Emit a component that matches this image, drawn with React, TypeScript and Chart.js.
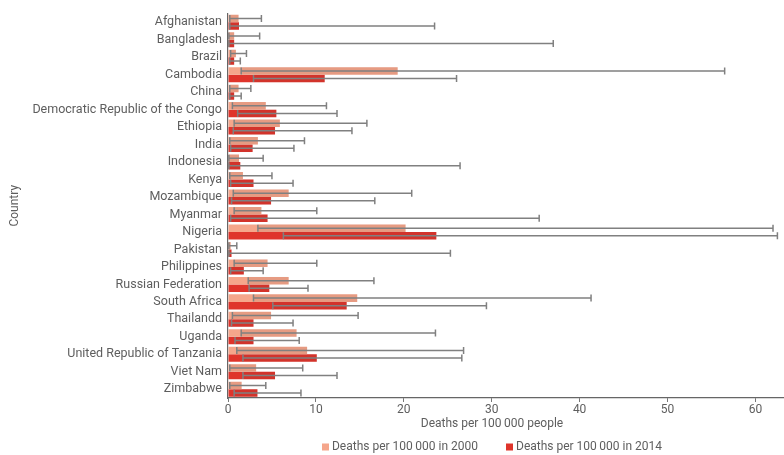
import React, { useEffect, useRef } from "react";
import { Chart, registerables } from "chart.js";

Chart.register(...registerables);

const CATEGORIES = [
  "Afghanistan", "Bangladesh", "Brazil", "Cambodia", "China",
  "Democratic Republic of the Congo", "Ethiopia", "India", "Indonesia", "Kenya",
  "Mozambique", "Myanmar", "Nigeria", "Pakistan", "Philippines",
  "Russian Federation", "South Africa", "Thailandd", "Uganda",
  "United Republic of Tanzania", "Viet Nam", "Zimbabwe",
];

const DEATHS_2000 = [1.2, 0.7, 0.9, 19.3, 1.2, 4.3, 5.9, 3.4, 1.25, 1.7, 6.9, 3.8, 20.2, 0.3, 4.5, 6.9, 14.7, 4.9, 7.8, 9.0, 3.2, 1.55];
const LOW_2000 = [0.2, 0.1, 0.3, 1.5, 0.2, 0.5, 0.7, 0.2, 0.1, 0.2, 0.6, 0.7, 3.4, 0.1, 0.7, 2.3, 2.9, 0.5, 1.5, 1.0, 0.2, 0.2];
const HIGH_2000 = [3.8, 3.6, 2.1, 56.5, 2.6, 11.2, 15.8, 8.7, 4.0, 5.0, 20.9, 10.1, 62.0, 1.0, 10.1, 16.6, 41.3, 14.8, 23.6, 26.8, 8.5, 4.3];

const DEATHS_2014 = [1.25, 0.7, 0.7, 11.0, 0.7, 5.5, 5.35, 2.8, 1.4, 2.9, 4.9, 4.5, 23.7, 0.4, 1.8, 4.7, 13.5, 2.9, 2.9, 10.1, 5.35, 3.35];
const LOW_2014 = [0.2, 0.1, 0.2, 2.9, 0.2, 1.1, 0.6, 0.3, 0.1, 0.3, 0.4, 0.3, 6.3, 0.1, 0.3, 2.4, 5.1, 0.4, 0.8, 1.7, 1.7, 0.7];
const HIGH_2014 = [23.5, 37.0, 1.4, 26.0, 1.5, 12.4, 14.1, 7.5, 26.4, 7.4, 16.7, 35.4, 62.5, 25.3, 4.0, 9.1, 29.4, 7.4, 8.1, 26.6, 12.4, 8.3];

const X_TICKS = [0, 10, 20, 30, 40, 50, 60];

const LABEL_2000 = "Deaths per 100\u2009000 in 2000";
const LABEL_2014 = "Deaths per 100\u2009000 in 2014";
const X_TITLE = "Deaths per 100\u2009000 people";
const Y_TITLE = "Country";

const COLOR_2000 = "#f5a68b";
const COLOR_2014 = "#df342b";
const FONT = "Roboto, 'DejaVu Sans', sans-serif";
const TEXT = "#5e5e5e";

const errorBarPlugin = {
  id: "errorBars",
  afterDatasetsDraw(chart: any) {
    const ctx = chart.ctx;
    const xs = chart.scales.x;
    const sets = [
      [LOW_2000, HIGH_2000],
      [LOW_2014, HIGH_2014],
    ];
    ctx.save();
    sets.forEach(([lo, hi], di) => {
      const meta = chart.getDatasetMeta(di);
      meta.data.forEach((el: any, i: number) => {
        const { x, y, height } = el.getProps(["x", "y", "height"], true);
        const xl = xs.getPixelForValue(lo[i]);
        const xh = xs.getPixelForValue(hi[i]);
        const end = Math.min(x, xh);
        if (end > xl) {
          ctx.fillStyle = "rgba(90,40,40,0.09)";
          ctx.fillRect(xl, y - height / 2, end - xl, height);
        }
        ctx.strokeStyle = "#808080";
        ctx.lineWidth = 1.5;
        ctx.beginPath();
        ctx.moveTo(xl, y);
        ctx.lineTo(xh, y);
        ctx.moveTo(xl, y - 3.5);
        ctx.lineTo(xl, y + 3.5);
        ctx.moveTo(xh, y - 3.5);
        ctx.lineTo(xh, y + 3.5);
        ctx.stroke();
      });
    });
    ctx.restore();
  },
};

const bottomTextPlugin = {
  id: "bottomText",
  afterDraw(chart: any) {
    const ctx = chart.ctx;
    ctx.save();
    ctx.font = `12px ${FONT}`;
    ctx.fillStyle = TEXT;
    ctx.textBaseline = "middle";
    ctx.textAlign = "center";
    const cx = 492;
    ctx.fillText(X_TITLE, cx, 424);

    const items = [
      { label: LABEL_2000, color: COLOR_2000 },
      { label: LABEL_2014, color: COLOR_2014 },
    ];
    const box = 7;
    const gap = 3;
    const itemGap = 28;
    const widths = items.map((it) => ctx.measureText(it.label).width);
    const total = widths.reduce((a, w) => a + box + gap + w, 0) + itemGap;
    let x = cx - total / 2;
    const ly = 447;
    ctx.textAlign = "left";
    items.forEach((it, i) => {
      ctx.fillStyle = it.color;
      ctx.fillRect(x, ly - box / 2, box, box);
      ctx.fillStyle = TEXT;
      ctx.fillText(it.label, x + box + gap, ly);
      x += box + gap + widths[i] + itemGap;
    });
    ctx.restore();
  },
};

export default function App() {
  const ref = useRef<HTMLCanvasElement | null>(null);

  useEffect(() => {
    if (!ref.current) return;
    const chart = new Chart(ref.current, {
      type: "bar",
      data: {
        labels: CATEGORIES,
        datasets: [
          { label: LABEL_2000, data: DEATHS_2000, backgroundColor: COLOR_2000, categoryPercentage: 0.86, barPercentage: 1 },
          { label: LABEL_2014, data: DEATHS_2014, backgroundColor: COLOR_2014, categoryPercentage: 0.86, barPercentage: 1 },
        ],
      },
      options: {
        indexAxis: "y",
        animation: false,
        responsive: false,
        maintainAspectRatio: false,
        layout: { padding: { top: 10, left: 8, right: 0, bottom: 0 } },
        plugins: {
          legend: { display: false },
          tooltip: { enabled: false },
        },
        scales: {
          x: {
            type: "linear",
            min: 0,
            max: 63.25,
            afterBuildTicks: (s: any) => {
              s.ticks = X_TICKS.map((v) => ({ value: v }));
            },
            afterFit: (s: any) => {
              s.height = 57;
            },
            grid: {
              display: true,
              drawOnChartArea: false,
              drawTicks: true,
              tickLength: 4,
              color: "#777",
            },
            border: { display: true, color: "#666", width: 1.2 },
            ticks: {
              color: TEXT,
              font: { family: FONT, size: 12 },
              padding: 1,
              maxRotation: 0,
            },
          },
          y: {
            afterFit: (s: any) => {
              s.width = 220;
            },
            grid: { display: false, drawTicks: false },
            border: { display: true, color: "#666", width: 1.2 },
            ticks: {
              color: TEXT,
              font: { family: FONT, size: 12.5 },
              padding: 6,
              autoSkip: false,
            },
            title: {
              display: true,
              text: Y_TITLE,
              color: TEXT,
              font: { family: FONT, size: 12 },
              padding: 0,
            },
          },
        },
      },
      plugins: [errorBarPlugin, bottomTextPlugin],
    });
    return () => chart.destroy();
  }, []);

  return (
    <div style={{ position: "absolute", left: 0, top: 0, width: 784, height: 455, background: "#fff" }}>
      <canvas ref={ref} width={784} height={455} style={{ display: "block" }} />
    </div>
  );
}
